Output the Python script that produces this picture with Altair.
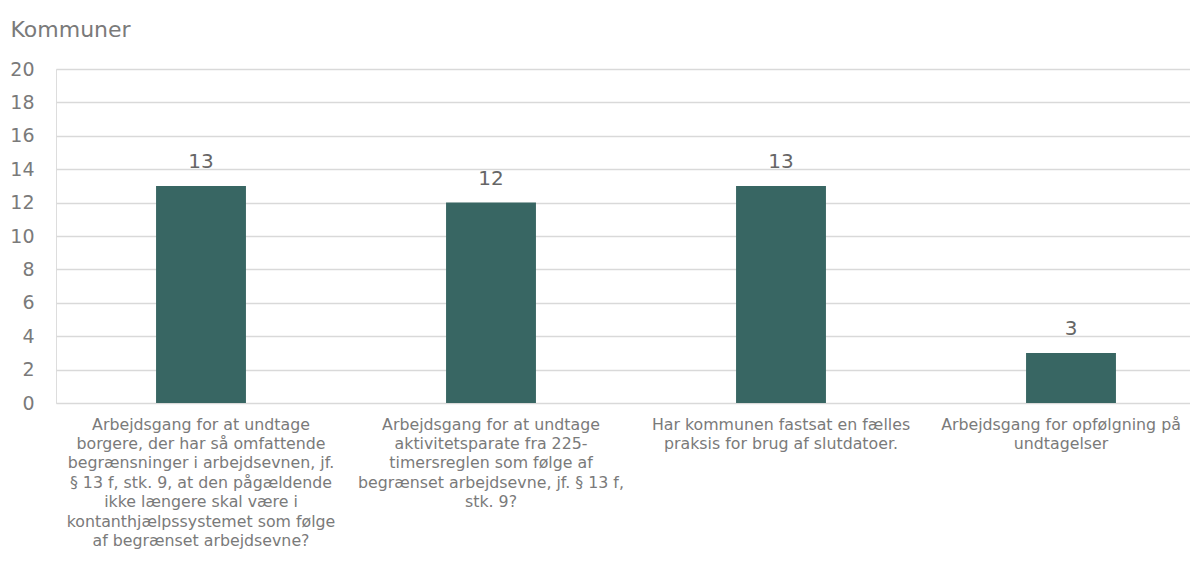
import altair as alt
import pandas as pd

categories = [
    "Arbejdsgang for at undtage|borgere, der har så omfattende|begrænsninger i arbejdsevnen, jf.|§ 13 f, stk. 9, at den pågældende|ikke længere skal være i|kontanthjælpssystemet som følge|af begrænset arbejdsevne?",
    "Arbejdsgang for at undtage|aktivitetsparate fra 225-|timersreglen som følge af|begrænset arbejdsevne, jf. § 13 f,|stk. 9?",
    "Har kommunen fastsat en fælles|praksis for brug af slutdatoer.",
    "Arbejdsgang for opfølgning på|undtagelser",
]
values = [13, 12, 13, 3]
y_ticks = list(range(0, 21, 2))

df = pd.DataFrame({"cat": categories, "val": values})

FONT = "DejaVu Sans"
GRAY = "#7a7a7a"

x = alt.X(
    "cat:N",
    sort=categories,
    scale=alt.Scale(paddingInner=0.69, paddingOuter=0.345, range=[0, 1160]),
    axis=alt.Axis(
        title=None,
        labelAngle=0,
        labelExpr="split(datum.label, '|')",
        labelFont=FONT,
        labelFontSize=15.8,
        labelColor=GRAY,
        labelLineHeight=19.4,
        labelBaseline="top",
        labelPadding=14,
        labelLimit=400,
        labelOverlap=False,
        labelBound=False,
        labelOffset={
            "condition": {"test": "indexof(datum.value, 'opfølgning') >= 0", "value": -10},
            "value": 0,
        },
        domain=False,
        ticks=False,
        grid=False,
    ),
)

y = alt.Y(
    "val:Q",
    scale=alt.Scale(domain=[0, 20], nice=False),
    axis=alt.Axis(
        values=y_ticks,
        title="Kommuner",
        titleAngle=0,
        titleAlign="left",
        titleBaseline="alphabetic",
        titleX=-46,
        titleY=-33,
        titleFont=FONT,
        titleFontSize=22,
        titleFontWeight="normal",
        titleColor=GRAY,
        labelFont=FONT,
        labelFontSize=19,
        labelColor=GRAY,
        labelPadding=22,
        labelOverlap=False,
        labelBound=False,
        domain=False,
        ticks=False,
        grid=True,
        gridColor="#d9d9d9",
        gridWidth=1.5,
    ),
)

base = alt.Chart(df).encode(x=x, y=y)

bars = base.mark_bar(color="#386663")

labels = base.mark_text(
    font=FONT, fontSize=20, color="#666666", baseline="alphabetic", dy=-18
).encode(text="val:Q")

chart = (
    alt.layer(bars, labels)
    .properties(
        width=1134,
        height=334,
        autosize=alt.AutoSizeParams(type="none"),
        padding={"left": 48, "top": 61, "right": 0, "bottom": 157},
    )
    .configure_view(stroke="transparent", strokeWidth=0)
    .configure_axis(domain=False, ticks=False)
    .configure(background="white")
)

chart.save("out.html", embed_options={"renderer": "svg", "actions": False})
